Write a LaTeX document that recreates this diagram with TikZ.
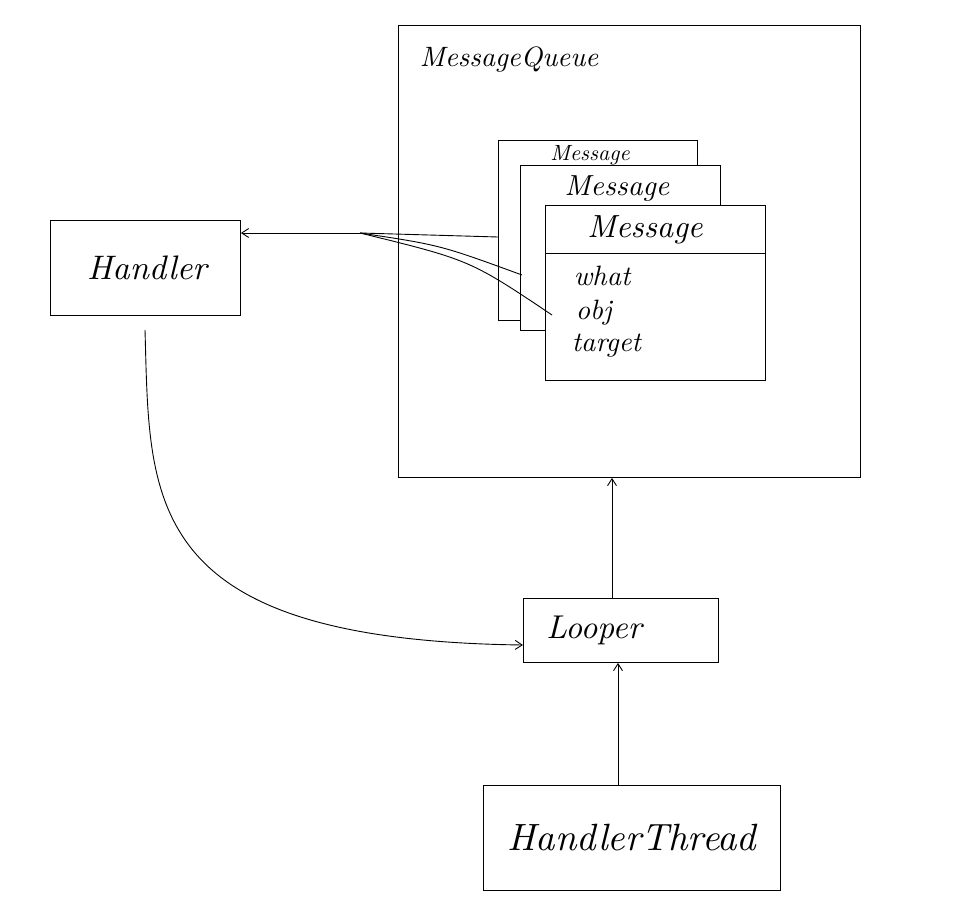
\documentclass[tikz,border=0pt]{standalone}
\usetikzlibrary{arrows.meta}
\begin{document}
\begin{tikzpicture}[x=1pt,y=-1pt,
  box/.style={draw,line width=0.9pt,fill=white},
  lbl/.style={font=\itshape},
  conn/.style={line width=0.9pt,-{Straight Barb[length=7pt,width=9pt]}},
  ln/.style={line width=0.9pt}]
\useasboundingbox (0,0) rectangle (955,915);
\node[box,minimum width=462pt,minimum height=452pt,anchor=north west] (mq) at (398,25) {};
\node[lbl,anchor=west,scale=2.8] (mqt) at (410,60) {MessageQueue};
\node[box,minimum width=199pt,minimum height=180pt,anchor=north west] (m1) at (498,140) {};
\node[lbl,scale=2.2,anchor=north,inner sep=1pt] (m1t) at (590,143) {Message};
\node[box,minimum width=200pt,minimum height=165pt,anchor=north west] (m2) at (520,165) {};
\node[lbl,scale=2.9,anchor=north,inner sep=1pt] (m2t) at (617,172) {Message};
\node[box,minimum width=220pt,minimum height=175pt,anchor=north west] (m3) at (545,205) {};
\node[lbl,scale=3.2] (m3t) at (645,230) {Message};
\draw[ln] (545,253) -- (765,253);
\node[lbl,scale=2.8,anchor=west] (f1) at (564,276) {what};
\node[lbl,scale=2.8,anchor=west] (f2) at (566,313) {obj};
\node[lbl,scale=2.8,anchor=west] (f3) at (562,346) {target};
\node[box,minimum width=190pt,minimum height=95pt,anchor=north west] (h) at (50,220) {};
\node[lbl,scale=3.4] (ht) at (147,268) {Handler};
\node[box,minimum width=195pt,minimum height=64pt,anchor=north west] (lp) at (523,598) {};
\node[lbl,scale=3.3] (lpt) at (594,630) {Looper};
\node[box,minimum width=297pt,minimum height=105pt,anchor=north west] (ht2) at (483,785) {};
\node[lbl,scale=3.8] (htt) at (632,838) {HandlerThread};
\coordinate (j) at (360,233);
\coordinate (jm1) at (498,237);
\coordinate (jm2) at (522,275);
\coordinate (jm3) at (552,315);
\draw[conn] (j) -- (h.east |- j);
\draw[ln] (j) -- (jm1);
\draw[ln] (j) .. controls (440,245) .. (jm2);
\draw[ln] (j) .. controls (470,260) .. (jm3);
\draw[conn] (145,330) .. controls (150,500) and (140,640) .. (lp.west |- 0,645);
\draw[conn] (lp.north -| 612,0) -- (mq.south -| 612,0);
\draw[conn] (ht2.north -| 618,0) -- (lp.south -| 618,0);
\end{tikzpicture}
\end{document}
